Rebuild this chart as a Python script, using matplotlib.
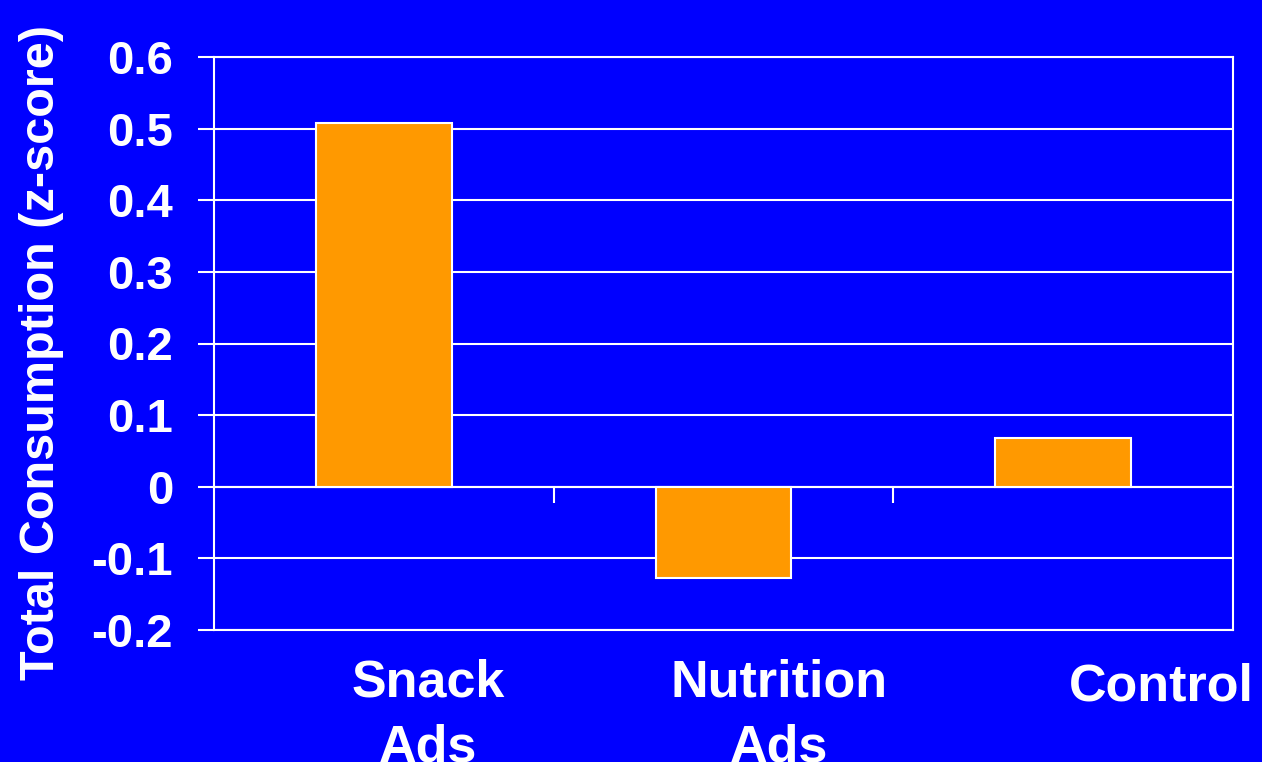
import matplotlib.pyplot as plt
import matplotlib.transforms as mtransforms
import numpy as np

categories = ["Snack\nAds", "Nutrition\nAds", "Control"]
values = [0.508, -0.127, 0.068]
y_ticks = [-0.2, -0.1, 0.0, 0.1, 0.2, 0.3, 0.4, 0.5, 0.6]
y_tick_labels = ["-0.2", "-0.1", "0", "0.1", "0.2", "0.3", "0.4", "0.5", "0.6"]
y_label = "Total Consumption (z-score)"

blue = "#0000FF"
orange = "#FF9900"
white = "#FFFFFF"

plt.rcParams['font.family'] = ['Liberation Sans', 'DejaVu Sans']
plt.rcParams['font.weight'] = 'bold'

fig = plt.figure(figsize=(12.62, 7.62), dpi=100, facecolor=blue)
ax = fig.add_axes([214/1262, 1-630/762, (1233-214)/1262, (630-57)/762])
ax.set_facecolor(blue)

x = np.arange(len(categories))
ax.bar(x, values, width=0.4, color=orange, edgecolor=white, linewidth=1.5, zorder=3)

ax.set_xlim(-0.5, len(categories) - 0.5)
ax.set_ylim(y_ticks[0], y_ticks[-1])
ax.set_yticks(y_ticks)
ax.set_yticklabels(y_tick_labels)
ax.tick_params(axis='y', colors=white, length=11.5, width=1.5, pad=18,
               labelsize=34, direction='out')
ax.set_xticks([])
ax.grid(axis='y', color=white, linewidth=1.5, zorder=1)
ax.set_axisbelow(True)
for sp in ax.spines.values():
    sp.set_color(white)
    sp.set_linewidth(1.5)

# zero line with category separator ticks
zero_pos = (0 - y_ticks[0]) / (y_ticks[-1] - y_ticks[0])
sec = ax.secondary_xaxis(zero_pos)
sec.set_xticks(x[:-1] + 0.5)
sec.set_xticklabels([])
sec.tick_params(axis='x', colors=white, length=11.5, width=1.5, direction='out')
sec.spines['bottom'].set_color(white)
sec.spines['bottom'].set_linewidth(1.5)

# category labels (sit a little right of the bars, as in the slide)
label_shift = [0.13, 0.163, 0.29]
label_y = [-0.05, -0.05, -0.057]
trans = mtransforms.blended_transform_factory(ax.transData, ax.transAxes)
for i, name in enumerate(categories):
    ax.text(x[i] + label_shift[i], label_y[i], name, transform=trans,
            ha='center', va='top', fontsize=37.5, color=white,
            fontweight='bold', linespacing=1.42, multialignment='center')

fig.text(42/1262, 1-352/762, y_label, rotation=90, ha='center', va='center',
         fontsize=35, color=white, fontweight='bold')

fig.savefig("out.png", dpi=100, facecolor=blue)
